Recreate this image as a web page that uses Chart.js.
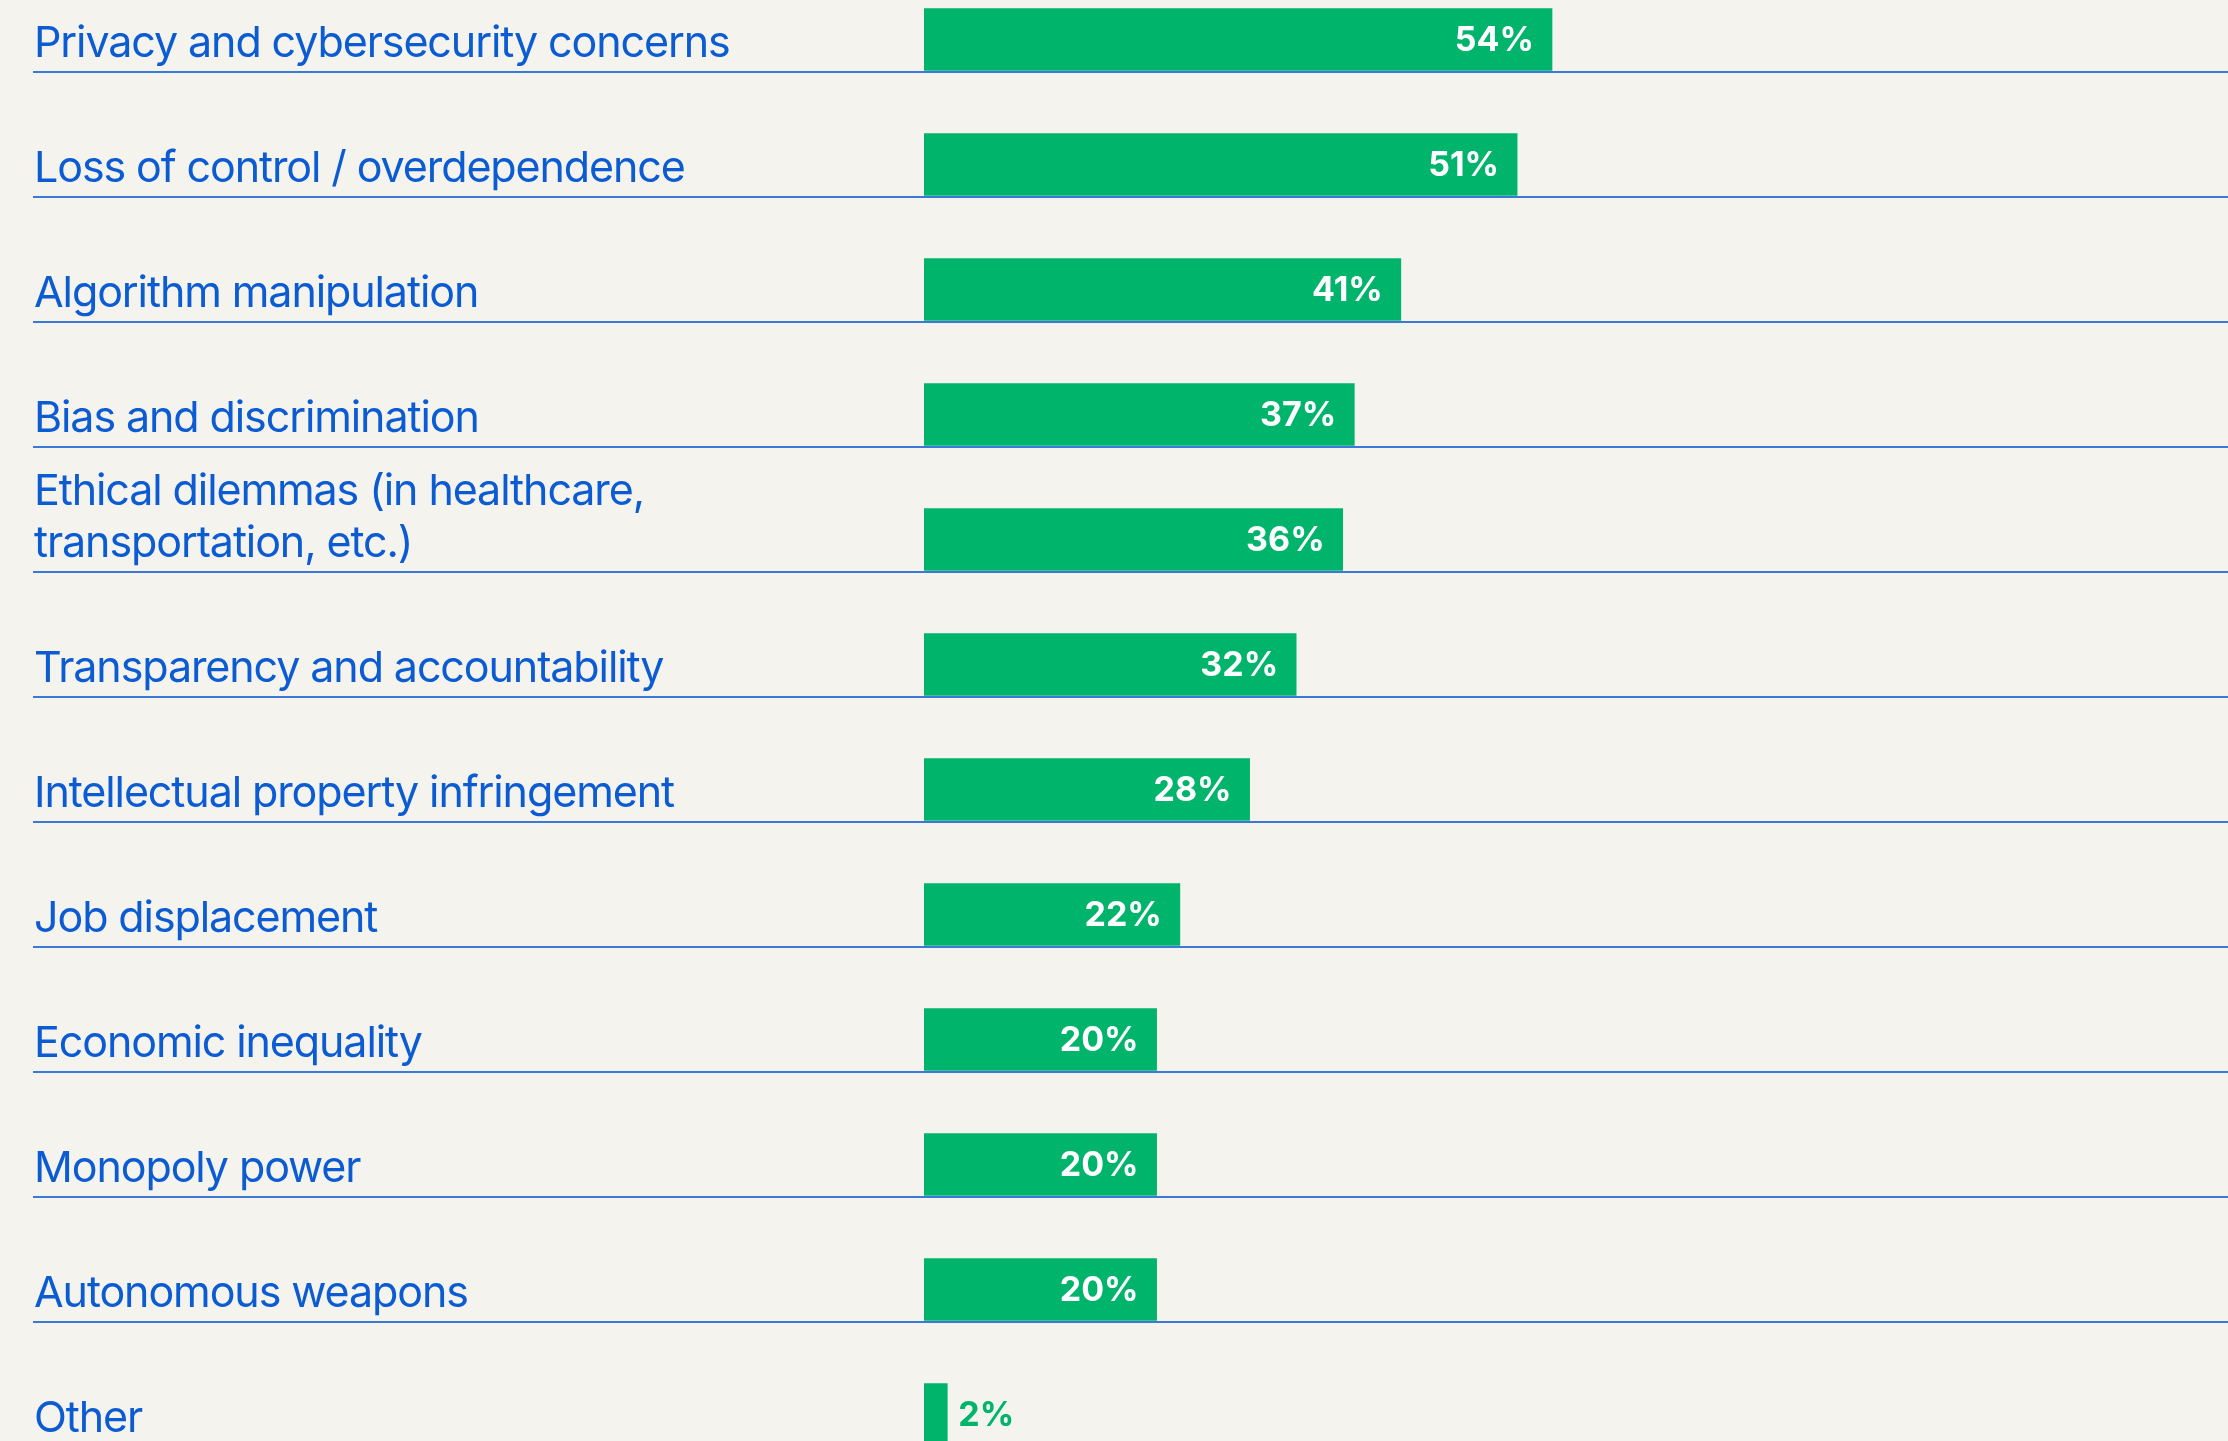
<!DOCTYPE html>
<html>
<head>
<meta charset="utf-8">
<script src="https://cdn.jsdelivr.net/npm/chart.js@4.4.1/dist/chart.umd.min.js"></script>
<style>
  html, body { margin: 0; padding: 0; background: #f5f3ee; overflow: hidden; width: 2228px; height: 1441px; }
  #wrap { position: absolute; left: 0; top: -23px; width: 2228px; height: 1500px; }
</style>
</head>
<body>
<div id="wrap"><canvas id="concernsChart"></canvas></div>
<script>
const concerns = [
    'Privacy and cybersecurity concerns',
    'Loss of control / overdependence',
    'Algorithm manipulation',
    'Bias and discrimination',
    ['Ethical dilemmas (in healthcare,', 'transportation, etc.)'],
    'Transparency and accountability',
    'Intellectual property infringement',
    'Job displacement',
    'Economic inequality',
    'Monopoly power',
    'Autonomous weapons',
    'Other'
];
const shares = [54, 51, 41, 37, 36, 32, 28, 22, 20, 20, 20, 2];

const GREEN = '#00b46c';
const TEXT_BLUE = '#0b5bd3';
const RULE_BLUE = '#3a78da';

// category names, row rules and value labels
const rowDecor = {
    id: 'rowDecor',
    afterDatasetsDraw(chart) {
        const ctx = chart.ctx;
        const yScale = chart.scales.y;
        const meta = chart.getDatasetMeta(0);
        ctx.save();
        concerns.forEach((label, i) => {
            const bar = meta.data[i];
            const yc = yScale.getPixelForValue(i);
            const bottom = yc + bar.height / 2;

            ctx.fillStyle = RULE_BLUE;
            ctx.fillRect(33, Math.round(bottom), chart.width - 33, 2);

            // last line of a name sits on the same baseline in every row
            const lines = Array.isArray(label) ? label : [label];
            ctx.font = '400 43px Inter';
            ctx.letterSpacing = '-1.1px';
            ctx.fillStyle = TEXT_BLUE;
            ctx.textAlign = 'left';
            ctx.textBaseline = 'alphabetic';
            lines.forEach((t, k) => {
                ctx.fillText(t, 34, yc + 17 - (lines.length - 1 - k) * 52);
            });

            const txt = shares[i] + '%';
            ctx.font = '700 34px Inter';
            ctx.letterSpacing = '0px';
            const w = ctx.measureText(txt).width;
            if (bar.x - bar.base > w + 30) {
                ctx.fillStyle = '#ffffff';
                ctx.textAlign = 'right';
                ctx.fillText(txt, bar.x - 18, yc + 11.5);
            } else {
                ctx.fillStyle = GREEN;
                ctx.textAlign = 'left';
                ctx.fillText(txt, bar.x + 11, yc + 11.5);
            }
        });
        ctx.restore();
    }
};

new Chart(document.getElementById('concernsChart'), {
    type: 'bar',
    data: {
        labels: concerns,
        datasets: [{
            data: shares,
            backgroundColor: GREEN,
            borderWidth: 0,
            barThickness: 62
        }]
    },
    options: {
        indexAxis: 'y',
        responsive: true,
        maintainAspectRatio: false,
        animation: false,
        layout: { padding: { left: 924, right: 141, top: 0, bottom: 0 } },
        plugins: {
            legend: { display: false },
            tooltip: { enabled: false }
        },
        scales: {
            x: { display: false, min: 0, max: 100 },
            y: { display: false, offset: true }
        }
    },
    plugins: [rowDecor]
});
</script>
</body>
</html>
